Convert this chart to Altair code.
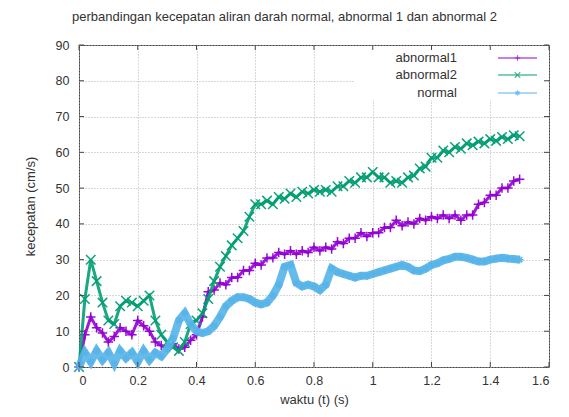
import altair as alt
import pandas as pd

# time axis (s), step 0.02 from 0 to 1.5
t = [round(i * 0.02, 2) for i in range(76)]

abnormal1 = [0, 9, 14, 11, 9.5, 7, 8.5, 11, 10, 9,
             13, 11.5, 10, 7, 6, 5.5, 6.5, 5, 5.5, 7.5,
             9, 14, 21, 21.5, 23.5, 23, 25, 25, 27, 27,
             29, 28.5, 30.5, 30.5, 32, 31.5, 32.5, 31.5, 32.5, 32,
             33.5, 32.5, 33.5, 33, 35, 34.5, 36, 36, 37.5, 36.5,
             37.5, 37.5, 39, 39, 41, 39.5, 40.5, 40, 41.5, 41,
             42, 41.5, 42.5, 41.5, 42.5, 41, 42.5, 42.5, 45.5, 46,
             48, 48, 50, 50, 52, 52.5]

abnormal2 = [0, 19, 30, 24, 18, 13, 12, 17, 18.5, 18,
             17, 18.5, 20, 13, 9, 7, 5.5, 4.5, 7, 12,
             13, 15, 19, 24, 28, 31, 34, 36, 38, 42,
             45.5, 45.5, 46.5, 45.5, 47.5, 47, 48.5, 47.5, 49, 48.5,
             49.5, 49, 49.5, 49, 50.5, 50.5, 52, 51.5, 53, 53,
             54.5, 53, 53, 51.5, 52, 51.5, 53, 53.5, 55.5, 56,
             58.5, 58.5, 60.5, 60, 61.5, 61, 62.5, 62, 63, 62.5,
             63.7, 63.2, 64.3, 63.7, 64.8, 64.5]

normal = [0, 4, 1.5, 4.5, 2, 4, 1, 4.5, 2.5, 4,
          1.5, 4.5, 2, 4, 3, 5, 8, 13, 15, 12,
          10, 9.5, 10, 11.5, 14, 17, 18.5, 19.5, 19.5, 19,
          18, 17.5, 18, 20, 23, 28, 28.5, 23.5, 22.5, 23,
          22.5, 21.5, 23, 27.5, 26.5, 26, 25.5, 25, 25.5, 25.5,
          26, 26.5, 27, 27.5, 28, 28.5, 28, 27, 26.8, 27.5,
          28.5, 29, 29.8, 30.2, 30.8, 30.8, 30.5, 30, 29.5, 29.5,
          30, 30.3, 30.5, 30.3, 30.2, 30]

series_names = ["abnormal1", "abnormal2", "normal"]
series_colors = ["#9400d3", "#009e73", "#56b4e9"]
series_shapes = ["M-1,0L1,0M0,-1L0,1",
                 "M-1,-1L1,1M-1,1L1,-1",
                 "M-1,0L1,0M0,-1L0,1M-0.7,-0.7L0.7,0.7M-0.7,0.7L0.7,-0.7"]
line_widths = [3, 3, 8]
point_sizes = [90, 90, 60]

x_ticks = [0, 0.2, 0.4, 0.6, 0.8, 1.0, 1.2, 1.4, 1.6]
y_ticks = [0, 10, 20, 30, 40, 50, 60, 70, 80, 90]

W, H = 470, 322
FONT = "Liberation Sans"
TXT = "#333333"

xs = alt.Scale(domain=[0, 1.6], nice=False, zero=False)
ys = alt.Scale(domain=[0, 90], nice=False)

x_axis = alt.Axis(values=x_ticks, tickCount=9, format="~g", ticks=False, domain=False, labelOverlap=False,
                  grid=True, gridColor="#b0b0b0", gridDash=[1, 2],
                  labelPadding=7, titlePadding=7)
y_axis = alt.Axis(values=y_ticks, tickCount=10, ticks=False, domain=False, labelOverlap=False,
                  grid=True, gridColor="#b0b0b0", gridDash=[1, 2],
                  labelPadding=10, titlePadding=18)


def X():
    return alt.X("t:Q", scale=xs, title="waktu (t) (s)", axis=x_axis)


def Y():
    return alt.Y("v:Q", scale=ys, title="kecepatan (cm/s)", axis=y_axis)


frame = pd.DataFrame({"t": [0.0, 1.6], "v": [0, 90]})
axes_layer = alt.Chart(frame).mark_point(opacity=0).encode(x=X(), y=Y())

legend_box = alt.Chart(frame).mark_rect(fill="white").encode(
    x=alt.value(276), x2=alt.value(W - 1), y=alt.value(1), y2=alt.value(55)
)

data_layers = []
for name, vals, col, shp, lw, ps in zip(series_names, [abnormal1, abnormal2, normal],
                                        series_colors, series_shapes, line_widths, point_sizes):
    sdf = pd.DataFrame({"t": t, "v": vals})
    data_layers.append(
        alt.Chart(sdf).mark_line(color=col, strokeWidth=lw, opacity=0.9).encode(x=X(), y=Y())
    )
    data_layers.append(
        alt.Chart(sdf).mark_point(shape=shp, filled=False, color=col, size=ps,
                                  strokeWidth=1.5, opacity=0.95).encode(x=X(), y=Y())
    )

xt = pd.DataFrame({"t": x_ticks})
yt = pd.DataFrame({"v": y_ticks})
tick_col = "#444444"
xticks_b = alt.Chart(xt).mark_rule(color=tick_col).encode(x=X(), y=alt.value(H), y2=alt.value(H - 5))
xticks_t = alt.Chart(xt).mark_rule(color=tick_col).encode(x=X(), y=alt.value(0), y2=alt.value(5))
yticks_l = alt.Chart(yt).mark_rule(color=tick_col).encode(y=Y(), x=alt.value(0), x2=alt.value(5))
yticks_r = alt.Chart(yt).mark_rule(color=tick_col).encode(y=Y(), x=alt.value(W), x2=alt.value(W - 5))

legend_layers = []
row_y = [13, 30, 48]
for name, col, shp, ry in zip(series_names, series_colors, series_shapes, row_y):
    ldf = pd.DataFrame({"label": [name]})
    legend_layers.append(
        alt.Chart(ldf).mark_text(align="right", baseline="middle", font=FONT, fontSize=13, color=TXT)
        .encode(text="label:N", x=alt.value(378), y=alt.value(ry))
    )
    legend_layers.append(
        alt.Chart(ldf).mark_rule(color=col, strokeWidth=1.2)
        .encode(x=alt.value(419), x2=alt.value(458), y=alt.value(ry))
    )
    legend_layers.append(
        alt.Chart(ldf).mark_point(shape=shp, filled=False, color=col, size=30, strokeWidth=1.2)
        .encode(x=alt.value(438.5), y=alt.value(ry))
    )

chart = alt.layer(
    axes_layer, legend_box, *data_layers, xticks_b, xticks_t, yticks_l, yticks_r, *legend_layers
).properties(
    width=W, height=H,
    title=alt.TitleParams(
        "perbandingan kecepatan aliran darah normal, abnormal 1 dan abnormal 2",
        font=FONT, fontSize=13, fontWeight="normal", color=TXT,
        anchor="middle", dx=-29.5, offset=15,
    ),
    autosize=alt.AutoSizeParams(type="none"),
    padding={"left": 71, "top": 37, "right": 12, "bottom": 42},
).configure_view(
    stroke="#444444", strokeWidth=1
).configure_axis(
    labelFont=FONT, titleFont=FONT, labelFontSize=12.5, titleFontSize=13,
    labelColor=TXT, titleColor=TXT, titleFontWeight="normal",
)

chart.save("out.html", embed_options={"renderer": "svg", "actions": False})
